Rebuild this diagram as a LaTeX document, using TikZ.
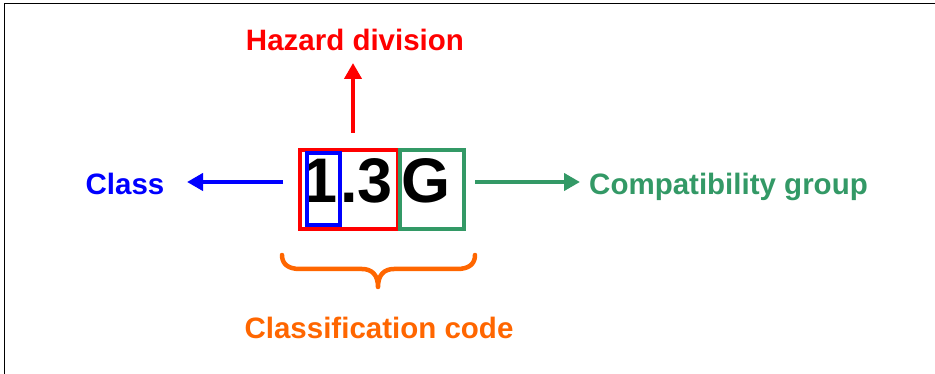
\documentclass[tikz,border=0pt]{standalone}
\usepackage{fontspec}
\setmainfont{Liberation Sans}
\usetikzlibrary{arrows.meta}
\definecolor{hzred}{HTML}{FF0000}
\definecolor{clblue}{HTML}{0000FF}
\definecolor{cpgreen}{HTML}{339966}
\definecolor{ccorange}{HTML}{FF6600}
\tikzset{
  lbl/.style={font=\fontsize{29.5}{31}\selectfont\bfseries, inner sep=0pt, anchor=base},
  big/.style={font=\fontsize{63}{65}\selectfont\bfseries, inner sep=0pt, anchor=base},
  boxnode/.style={draw, line width=3.8pt, inner sep=0pt, anchor=north west},
  arr/.style={line width=4.5pt, -{Triangle[length=16pt,width=17pt]}},
}
\begin{document}
\begin{tikzpicture}[x=1pt,y=-1pt]
\useasboundingbox (0,0) rectangle (935,374);
% frame
\draw[line width=1.6pt] (4.5,374) -- (4.5,3.5) -- (935,3.5);
% code text
\node[big] (one) at (320.5,203) {1};
\node[big] (dot) at (349,203) {.};
\node[big] (three) at (375.5,203) {3};
\node[big] (gee) at (426,203) {G};
% boxes
\node[boxnode, draw=hzred, minimum width=98pt, minimum height=79pt] (redbox) at (298,148) {};
\node[boxnode, draw=cpgreen, minimum width=64pt, minimum height=79pt] (greenbox) at (398,148) {};
\node[boxnode, draw=clblue, minimum width=33pt, minimum height=72pt] (bluebox) at (305,151) {};
% labels
\node[lbl, text=hzred] (hazard) at (355,51) {Hazard division};
\node[lbl, text=clblue] (class) at (125,195) {Class};
\node[lbl, text=cpgreen] (compat) at (728.5,195) {Compatibility group};
\node[lbl, text=ccorange] (ccode) at (379,338) {Classification code};
% arrows
\coordinate (hs) at (353,133);
\coordinate (ht) at (353,63);
\draw[arr, hzred] (hs) -- (ht);
\coordinate (cs) at (283,182);
\coordinate (ct) at (187,182);
\draw[arr, clblue] (cs) -- (ct);
\coordinate (gs) at (475,182);
\coordinate (gt) at (580,182);
\draw[arr, cpgreen] (gs) -- (gt);
% brace
\draw[ccorange, line width=4.5pt, line cap=round, line join=round]
  (282,255) .. controls (282,264) and (288,269) .. (300,269) -- (362,269)
  .. controls (372,269) and (378,275) .. (378,287)
  .. controls (378,275) and (384,269) .. (394,269) -- (457,269)
  .. controls (469,269) and (475,264) .. (475,255);
\end{tikzpicture}
\end{document}
